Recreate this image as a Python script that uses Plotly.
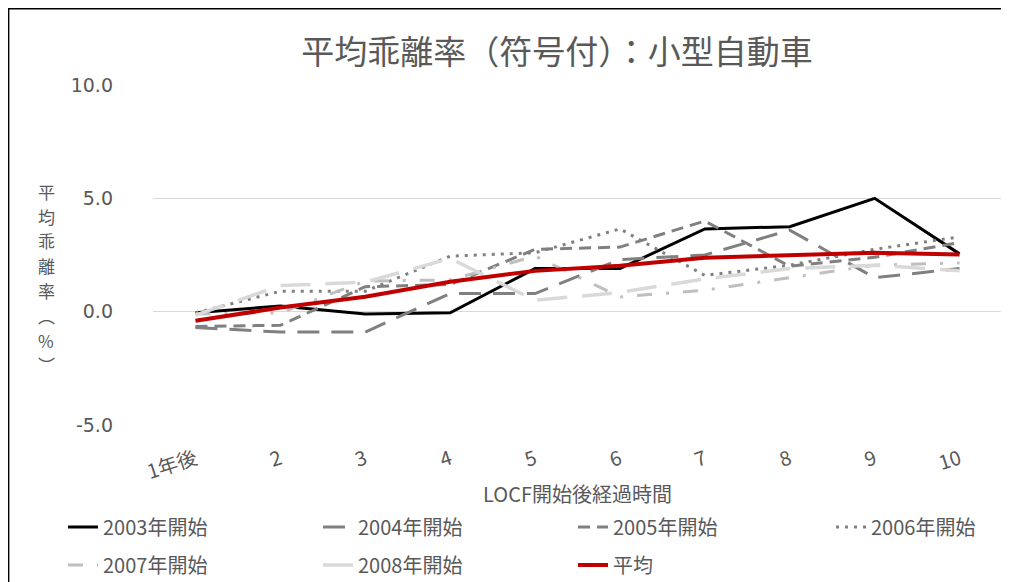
import plotly.graph_objects as go

categories = ["1年後", "2", "3", "4", "5", "6", "7", "8", "9", "10"]
s2003 = [-0.05, 0.25, -0.1, -0.05, 1.9, 1.9, 3.65, 3.75, 5.0, 2.55]
s2004 = [-0.7, -0.9, -0.9, 0.8, 0.8, 2.3, 2.5, 3.6, 1.5, 1.9]
s2005 = [-0.65, -0.6, 1.1, 1.2, 2.75, 2.85, 4.0, 2.0, 2.4, 3.05]
s2006 = [-0.05, 0.9, 0.9, 2.45, 2.6, 3.65, 1.6, 2.05, 2.75, 3.3]
s2007 = [-0.1, -0.05, 1.35, 1.4, 2.45, 0.65, 0.95, 1.5, 2.05, 2.15]
s2008 = [-0.15, 1.15, 1.3, 2.35, 0.5, 0.85, 1.45, 1.9, 2.05, 1.8]
avg = [-0.4, 0.18, 0.66, 1.32, 1.8, 2.03, 2.38, 2.47, 2.6, 2.52]
y_ticks = [-5, 0, 5, 10]
y_ticktext = ["-5.0", "0.0", "5.0", "10.0"]
y_title_chars = ["平", "均", "乖", "離", "率", "︵", "%", "︶"]

FONT = "Noto Sans CJK JP"
TXT = "#595959"

series = [
    ("2003年開始", s2003, "#000000", "solid", 3, "legend"),
    ("2004年開始", s2004, "#808080", "22px,12px", 3, "legend"),
    ("2005年開始", s2005, "#808080", "12px,7px", 3, "legend"),
    ("2006年開始", s2006, "#808080", "3px,6px", 3, "legend3"),
    ("2007年開始", s2007, "#BFBFBF", "15px,14px,3px,14px", 3, "legend2"),
    ("2008年開始", s2008, "#D9D9D9", "30px,15px", 3.5, "legend2"),
    ("平均", avg, "#C00000", "solid", 4, "legend2"),
]

fig = go.Figure()
for name, vals, color, dash, width, leg in series:
    fig.add_trace(go.Scatter(
        x=categories, y=vals, mode="lines", name=name,
        line=dict(color=color, width=width, dash=dash),
        legend=leg,
    ))

# page has an 8px body margin; figure is sized to the visible area
OFF = 8
W, H = 1009 - OFF, 582 - OFF
L, R, T, B = 145, 7, 77, 157
pw = W - L - R
ph = H - T - B

def px_x(p):  # screen px -> paper x
    return (p - OFF - L) / pw

def px_y(p):  # screen px -> paper y
    return (H - B - (p - OFF)) / ph

legend_common = dict(
    orientation="h", xanchor="left", yanchor="middle",
    font=dict(family=FONT, size=20, color=TXT),
    entrywidth=210, entrywidthmode="pixels",
    bgcolor="rgba(0,0,0,0)", itemclick=False,
)

fig.update_layout(
    width=W, height=H,
    margin=dict(l=L, r=R, t=T, b=B, autoexpand=False),
    paper_bgcolor="white", plot_bgcolor="white",
    title=dict(text="平均乖離率（符号付）：小型自動車", xref="container",
               x=(557 - OFF) / W, xanchor="center",
               yref="container", y=1 - 44 / H, yanchor="middle",
               font=dict(family=FONT, size=33, color=TXT)),
    xaxis=dict(
        type="category", range=[-0.5, 9.5], showgrid=False, zeroline=False,
        showline=False, ticks="", tickangle=-18,
        tickfont=dict(family=FONT, size=20, color=TXT),
        ticklabelstandoff=18,
        title=dict(text="LOCF開始後経過時間", font=dict(family=FONT, size=20, color=TXT),
                   standoff=3),
    ),
    yaxis=dict(
        range=[-5, 10], tickvals=y_ticks, ticktext=y_ticktext,
        showgrid=True, gridcolor="#D9D9D9", gridwidth=1.3,
        zeroline=False, showline=False, ticks="",
        tickfont=dict(family="DejaVu Sans", size=19, color=TXT),
        ticklabelstandoff=39,
    ),
    legend=dict(x=px_x(63), y=px_y(527), **legend_common),
    legend3=dict(x=px_x(831), y=px_y(527), **legend_common),
    legend2=dict(x=px_x(63), y=px_y(565), **legend_common),
    showlegend=True,
)

# stacked vertical y-axis title, one character per line
pitch = 24.8
for i, ch in enumerate(y_title_chars):
    fig.add_annotation(text=ch, xref="paper", yref="paper",
                       x=px_x(46), y=px_y(278 + (i - 3.5) * pitch),
                       xanchor="center", yanchor="middle", showarrow=False,
                       borderpad=0,
                       font=dict(family=FONT, size=17, color=TXT))

# chart frame
fig.add_shape(type="rect", xref="paper", yref="paper",
              x0=px_x(8.7), x1=px_x(1005), y0=px_y(620), y1=px_y(8.7),
              line=dict(color="#000000", width=1.4), layer="below")

fig.write_html("out.html")
